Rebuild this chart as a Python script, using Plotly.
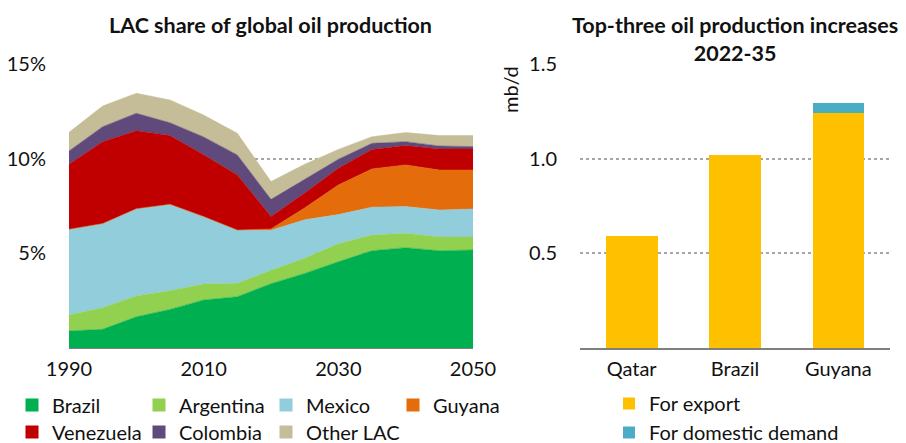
import plotly.graph_objects as go

# ---------------- data ----------------
years = [1990, 1995, 2000, 2005, 2010, 2015, 2020, 2025, 2030, 2035, 2040, 2045, 2050]
brazil    = [0.90, 0.99, 1.65, 2.04, 2.54, 2.71, 3.40, 3.94, 4.56, 5.14, 5.30, 5.14, 5.18]
argentina = [0.84, 1.14, 1.10, 0.99, 0.84, 0.71, 0.70, 0.80, 0.94, 0.83, 0.76, 0.72, 0.68]
mexico    = [4.53, 4.44, 4.61, 4.56, 3.56, 2.81, 2.12, 2.03, 1.55, 1.47, 1.41, 1.43, 1.48]
guyana    = [0.00, 0.00, 0.00, 0.00, 0.00, 0.00, 0.07, 0.63, 1.56, 2.02, 2.20, 2.11, 2.06]
venezuela = [3.43, 4.33, 4.12, 3.63, 3.27, 2.91, 0.65, 0.79, 0.88, 1.03, 1.02, 1.11, 1.11]
colombia  = [0.71, 0.79, 0.92, 0.68, 0.94, 1.06, 0.91, 0.71, 0.48, 0.32, 0.21, 0.16, 0.13]
other_lac = [0.98, 1.09, 1.05, 1.20, 1.15, 1.14, 0.94, 0.80, 0.52, 0.35, 0.48, 0.55, 0.58]
left_xticks = [1990, 2010, 2030, 2050]
left_yticks = [5, 10, 15]
left_yticktext = ["5%", "10%", "15%"]

countries = ["Qatar", "Brazil", "Guyana"]
for_export = [0.59, 1.02, 1.24]
for_domestic = [0.0, 0.0, 0.055]
right_yticks = [0.5, 1.0, 1.5]
right_yticktext = ["0.5", "1.0", "1.5"]

# ---------------- styling ----------------
W, H = 906, 443
FONT = "Lato"
FS = 20
TFS = 21.5
TXT = "#111111"
GRID = "#A6A6A6"

def px(xp):
    return xp / W

def py(yp):
    return 1 - yp / H

series = [
    ("Brazil", brazil, "#00B050", "legend"),
    ("Argentina", argentina, "#92D050", "legend"),
    ("Mexico", mexico, "#92CDDC", "legend"),
    ("Guyana", guyana, "#E46C0A", "legend"),
    ("Venezuela", venezuela, "#C00000", "legend2"),
    ("Colombia", colombia, "#604A7B", "legend2"),
    ("Other LAC", other_lac, "#C4BD97", "legend4"),
]

fig = go.Figure()
for name, vals, col, _ in series:
    fig.add_trace(go.Scatter(
        x=years, y=vals, stackgroup="lac", mode="lines",
        line=dict(width=0.5, color=col), fillcolor=col,
        showlegend=False, hoverinfo="skip", xaxis="x", yaxis="y"))

# legend proxies (square swatches)
for name, vals, col, lg in series:
    fig.add_trace(go.Scatter(
        x=[None], y=[None], mode="markers", name=name,
        marker=dict(symbol="square", size=13, color=col),
        legend=lg, xaxis="x", yaxis="y"))

fig.add_trace(go.Bar(x=countries, y=for_export, name="For export",
                     marker=dict(color="#FFC000", line=dict(width=0)),
                     width=0.5, xaxis="x2", yaxis="y2", legend="legend3"))
fig.add_trace(go.Bar(x=countries, y=for_domestic, name="For domestic demand",
                     marker=dict(color="#4BACC6", line=dict(width=0)),
                     width=0.5, xaxis="x2", yaxis="y2", legend="legend3"))

ydom = [py(348), py(64)]

leg_common = dict(bgcolor="rgba(0,0,0,0)", font=dict(size=FS), traceorder="normal",
                  itemclick=False, itemdoubleclick=False)

fig.update_layout(
    width=W, height=H,
    margin=dict(l=0, r=0, t=0, b=0, autoexpand=False),
    paper_bgcolor="white", plot_bgcolor="white",
    font=dict(family=FONT, size=FS, color=TXT),
    barmode="stack",
    xaxis=dict(domain=[px(69), px(473)], range=[1990, 2050], anchor="y",
               tickvals=left_xticks, showgrid=False, zeroline=False,
               showline=True, linecolor="#7F7F7F", linewidth=1,
               ticks="", ticklabelstandoff=3, tickfont=dict(size=FS)),
    yaxis=dict(domain=ydom, range=[0, 15], anchor="x",
               tickvals=left_yticks, ticktext=left_yticktext,
               showgrid=True, gridcolor=GRID, griddash="dot", gridwidth=1.5,
               zeroline=False, showline=False, ticks="", ticklabelstandoff=22,
               tickfont=dict(size=FS)),
    xaxis2=dict(domain=[px(580), px(890)], range=[-0.5, 2.5], anchor="y2",
                type="category", showgrid=False, zeroline=False,
                showline=True, linecolor="#7F7F7F", linewidth=1.5,
                ticks="", ticklabelstandoff=2, tickfont=dict(size=FS)),
    yaxis2=dict(domain=ydom, range=[0, 1.5], anchor="x2",
                tickvals=right_yticks, ticktext=right_yticktext,
                showgrid=True, gridcolor=GRID, griddash="dot", gridwidth=1.5,
                zeroline=False, showline=False, ticks="", ticklabelstandoff=22,
                tickfont=dict(size=FS)),
    legend=dict(orientation="h", x=px(12), y=py(405), xanchor="left", yanchor="middle",
                entrywidth=82, **leg_common),
    legend2=dict(orientation="h", x=px(12), y=py(432), xanchor="left", yanchor="middle",
                 entrywidth=82, **leg_common),
    legend4=dict(orientation="h", x=px(266), y=py(432), xanchor="left", yanchor="middle",
                 **leg_common),
    legend3=dict(orientation="v", x=px(609), y=py(418), xanchor="left", yanchor="middle",
                 **leg_common),
    annotations=[
        dict(text="<b>LAC share of global oil production</b>", x=px(270), y=py(25),
             xref="paper", yref="paper", showarrow=False, xanchor="center", yanchor="middle",
             font=dict(size=TFS)),
        dict(text="<b>Top-three oil production increases<br>2022-35</b>", x=px(735), y=py(39),
             xref="paper", yref="paper", showarrow=False, xanchor="center", yanchor="middle",
             font=dict(size=TFS)),
        dict(text="mb/d", x=px(510), y=py(90), xref="paper", yref="paper",
             showarrow=False, textangle=-90, xanchor="center", yanchor="middle",
             font=dict(size=FS)),
    ],
)

fig.write_html("out.html", config={"displayModeBar": False},
               post_script="document.body.style.margin='0';")
